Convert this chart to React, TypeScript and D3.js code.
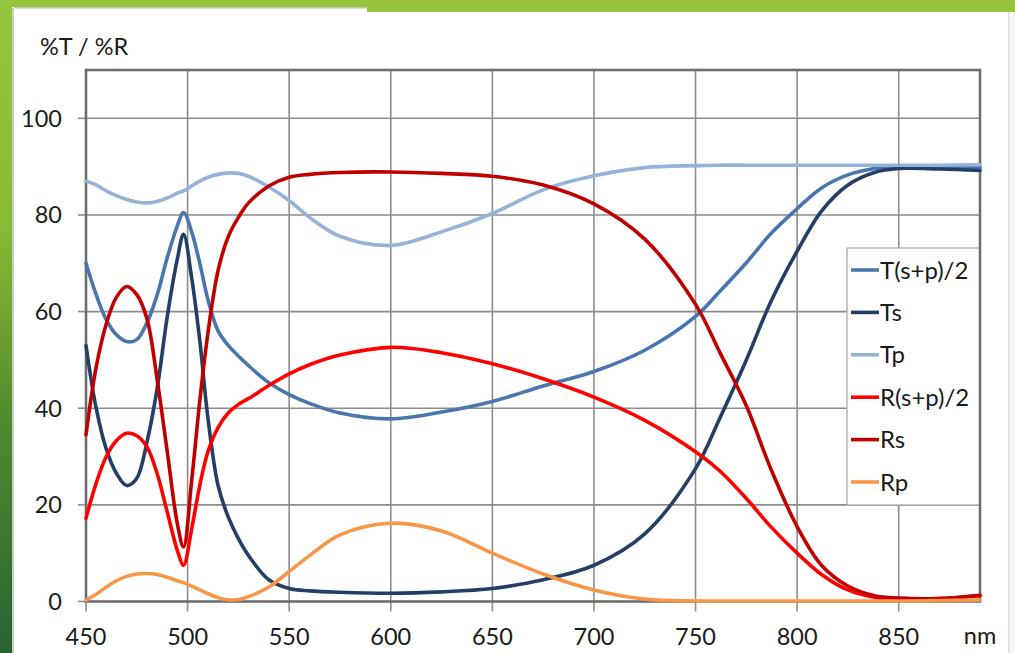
import React from "react";
import * as d3 from "d3";

// Wavelength samples (nm) shared by every series
const wavelengths = [450, 455, 460, 465, 470, 475, 480, 485, 490, 495, 498, 502, 506, 510, 515, 520, 525, 530, 540, 550, 560, 575, 600, 625, 650, 675, 700, 725, 750, 762, 775, 787, 800, 812, 825, 838, 850, 870, 890];

// Transmission / reflection in percent
const tAvg = [70, 63.5, 58.3, 55.2, 53.8, 54.2, 57.7, 63.4, 71.2, 77.8, 80.5, 76.5, 70, 62.5, 56, 53, 50.8, 48.8, 45.3, 42.8, 41, 39, 37.8, 39.2, 41.4, 44.6, 47.6, 52, 59, 64.2, 70.1, 76.1, 81.3, 85.6, 88.3, 89.6, 90.1, 90, 89.8];
const ts = [53, 40, 31.5, 26.5, 24, 25.5, 33, 44, 59, 71, 76, 67, 54, 38, 24, 17.5, 13, 9.5, 4.5, 2.7, 2.2, 1.9, 1.7, 2, 2.7, 4.5, 7.5, 14, 27.5, 38, 50, 62, 72.5, 80.8, 86.2, 88.8, 89.6, 89.5, 89.2];
const tp = [87, 86.2, 85, 84, 83.2, 82.7, 82.5, 82.8, 83.5, 84.5, 85, 86, 87, 87.8, 88.4, 88.7, 88.6, 88, 85.8, 83, 79.5, 75.6, 73.7, 76.5, 80.3, 85.2, 88.1, 89.8, 90.2, 90.3, 90.3, 90.3, 90.3, 90.3, 90.3, 90.3, 90.3, 90.3, 90.4];
const rAvg = [17.2, 24.5, 30, 33.3, 34.8, 34.3, 32, 26.5, 18.5, 10.5, 7.5, 15, 24, 31, 36, 39, 40.8, 42, 44.7, 47.1, 49, 51, 52.6, 51.5, 49.2, 46.1, 42.3, 37.5, 31, 27, 21.3, 15.5, 10, 5.6, 2.4, 0.9, 0.6, 0.6, 1.2];
const rs = [34.5, 48.5, 57.5, 63, 65.2, 63.5, 58.5, 46, 31, 16, 11.3, 25, 41.5, 55.5, 68.5, 75.5, 79.5, 82.5, 86, 87.8, 88.4, 88.8, 88.9, 88.6, 88, 86.2, 82.3, 75, 61.5, 51.5, 40.5, 27.5, 15.5, 7.5, 3.2, 1.2, 0.7, 0.6, 1.3];
const rp = [0.3, 1.5, 3, 4.3, 5.2, 5.7, 5.8, 5.6, 5, 4.3, 3.9, 3.2, 2.4, 1.6, 0.8, 0.35, 0.4, 1, 3, 6.2, 9.5, 13.8, 16.2, 14.6, 10, 5.7, 2.4, 0.5, 0.1, 0.1, 0.1, 0.1, 0.1, 0.1, 0.1, 0.1, 0.1, 0.2, 0.3];

const seriesNames = ["T(s+p)/2", "Ts", "Tp", "R(s+p)/2", "Rs", "Rp"];
const seriesValues = [tAvg, ts, tp, rAvg, rs, rp];
const seriesColors = ["#4a76ae", "#243f66", "#95b3d7", "#ff0000", "#c00000", "#f79646"];

const xTicks = [450, 500, 550, 600, 650, 700, 750, 800, 850];
const yTicks = [0, 20, 40, 60, 80, 100];

const W = 1015;
const H = 653;
const FONT = "Lato, 'Open Sans', sans-serif";

export default function App() {
  const left = 86, right = 980, top = 70, bottom = 601.5;
  const x = d3.scaleLinear().domain([450, 890]).range([left, right]);
  const y = d3.scaleLinear().domain([0, 110]).range([bottom, top]);

  const line = d3
    .line<number>()
    .x((_, i) => x(wavelengths[i]))
    .y((v) => y(v))
    .curve(d3.curveCatmullRom.alpha(0.5));

  const legendX = 847, legendY = 248, legendW = right - 847, legendH = 257;
  const rowStep = 42.4;

  return (
    <div style={{ position: "absolute", left: 0, top: 0 }}>
      <svg width={W} height={H} style={{ display: "block" }}>
        <defs>
          <linearGradient id="sideGreen" x1="0" y1="0" x2="0" y2="1">
            <stop offset="0" stopColor="#93c73c" />
            <stop offset="0.35" stopColor="#86bb34" />
            <stop offset="0.65" stopColor="#4f8a2c" />
            <stop offset="1" stopColor="#2a6332" />
          </linearGradient>
        </defs>

        {/* slide frame */}
        <rect x={0} y={0} width={W} height={H} fill="#ffffff" />
        <rect x={0} y={0} width={W} height={7} fill="#97c43c" />
        <rect x={14} y={7} width={353} height={1.5} fill="#b9c7a6" />
        <rect x={367} y={0} width={W - 367} height={12} fill="#97c43c" />
        <rect x={0} y={0} width={12} height={H} fill="url(#sideGreen)" />
        <rect x={12} y={8} width={2} height={H} fill="#c9cfc4" />
        <rect x={1008} y={12} width={1.5} height={H} fill="#dcdcdc" />
        <rect x={1009.5} y={12} width={W - 1009.5} height={H} fill="#f7f7f7" />

        {/* grid */}
        <g stroke="#8c8c8c" strokeWidth={1.6}>
          {yTicks.filter((t) => t > 0).map((t) => (
            <line key={"gy" + t} x1={left} x2={right} y1={y(t)} y2={y(t)} />
          ))}
          {xTicks.filter((t) => t > 450).map((t) => (
            <line key={"gx" + t} x1={x(t)} x2={x(t)} y1={top} y2={bottom} />
          ))}
          {yTicks.map((t) => (
            <line key={"ty" + t} x1={left - 8} x2={left} y1={y(t)} y2={y(t)} />
          ))}
          {xTicks.map((t) => (
            <line key={"tx" + t} x1={x(t)} x2={x(t)} y1={bottom} y2={bottom + 10} />
          ))}
        </g>

        {/* legend box sits over the grid */}
        <rect x={legendX} y={legendY} width={legendW} height={legendH} fill="#ffffff" stroke="#a6a6a6" strokeWidth={1.2} />

        {/* plot border */}
        <rect x={left} y={top} width={right - left} height={bottom - top} fill="none" stroke="#6e6e6e" strokeWidth={2.6} />

        {/* series */}
        <g fill="none" strokeWidth={3.6} strokeLinejoin="round" strokeLinecap="round">
          {seriesValues.map((vals, i) => (
            <path key={seriesNames[i]} d={line(vals) || ""} stroke={seriesColors[i]} />
          ))}
        </g>

        {/* legend entries */}
        <g fontFamily={FONT} fontSize={24} fill="#1a1a1a">
          {seriesNames.map((name, i) => {
            const cy = 270 + i * rowStep;
            return (
              <g key={"lg" + name}>
                <line x1={851} x2={879} y1={cy} y2={cy} stroke={seriesColors[i]} strokeWidth={3.6} />
                <text x={880} y={cy} dy="0.36em">{name}</text>
              </g>
            );
          })}
        </g>

        {/* axis labels */}
        <g fontFamily={FONT} fontSize={23.5} fill="#1a1a1a">
          {yTicks.map((t) => (
            <text key={"ly" + t} x={62} y={y(t)} dy="0.36em" textAnchor="end">{t}</text>
          ))}
          {xTicks.map((t) => (
            <text key={"lx" + t} x={x(t)} y={637} dy="0.36em" textAnchor="middle">{t}</text>
          ))}
          <text x={980} y={636} dy="0.36em" textAnchor="middle">nm</text>
        </g>
        <text x={40} y={47} dy="0.36em" fontFamily={FONT} fontSize={23.5} fill="#1a1a1a">%T / %R</text>
      </svg>
    </div>
  );
}
